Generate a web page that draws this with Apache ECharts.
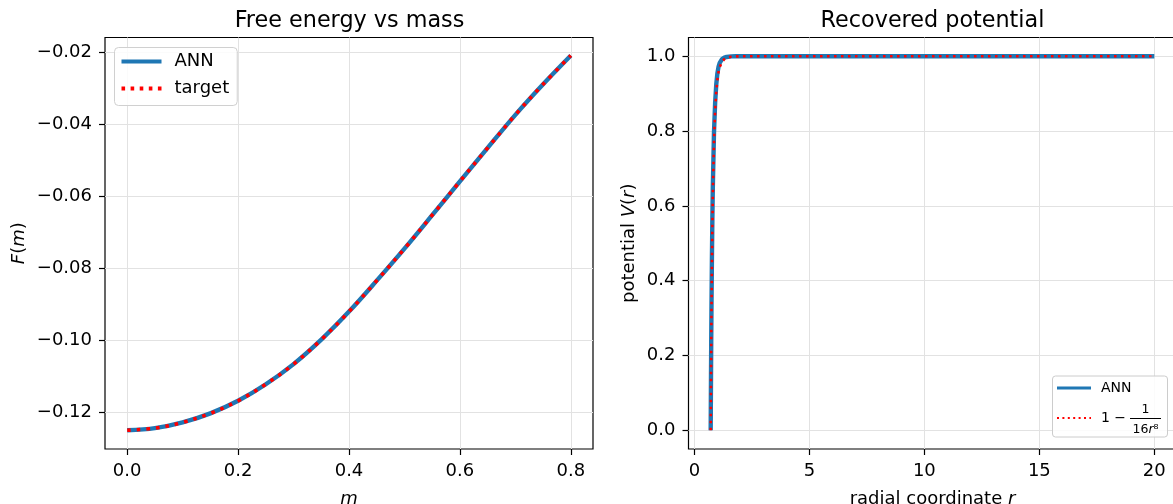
<!DOCTYPE html>
<html>
<head>
<meta charset="utf-8">
<script src="https://cdn.jsdelivr.net/npm/echarts@6/dist/echarts.min.js"></script>
<style>
html,body{margin:0;padding:0;background:#fff;}
#chart{width:1173px;height:504px;}
</style>
</head>
<body>
<div id="chart"></div>
<script>
// ---------- data ----------
const massM = [0, 0.05, 0.1, 0.15, 0.2, 0.25, 0.3, 0.35, 0.4, 0.45, 0.5, 0.55, 0.6, 0.65, 0.7, 0.75, 0.8];
const freeEnergyANN = [-0.1250, -0.1244, -0.1228, -0.1203, -0.1168, -0.1122, -0.1066, -0.0998, -0.0920, -0.0834, -0.0745, -0.0652, -0.0558, -0.0465, -0.0373, -0.0288, -0.0208];
const freeEnergyTarget = [-0.1250, -0.1244, -0.1228, -0.1203, -0.1168, -0.1122, -0.1066, -0.0998, -0.0920, -0.0834, -0.0745, -0.0652, -0.0558, -0.0465, -0.0373, -0.0288, -0.0208];

const radiusR = [0.707, 0.71, 0.72, 0.73, 0.74, 0.76, 0.78, 0.8, 0.85, 0.9, 0.95, 1.0, 1.05, 1.1, 1.2, 1.3, 1.4, 1.6, 1.8, 2.0, 3, 5, 10, 15, 20];
const potentialANN = [0, 0.034, 0.14, 0.235, 0.318, 0.455, 0.565, 0.65, 0.795, 0.875, 0.925, 0.955, 0.972, 0.982, 0.992, 0.996, 0.998, 0.9995, 1, 1, 1, 1, 1, 1, 1];
const potentialTarget = [0, 0.032, 0.134, 0.225, 0.305, 0.438, 0.544, 0.627, 0.771, 0.855, 0.906, 0.938, 0.958, 0.971, 0.985, 0.992, 0.996, 0.9985, 0.9994, 0.9998, 1, 1, 1, 1, 1];

const massTicks = [0, 0.2, 0.4, 0.6, 0.8];
const energyTicks = [-0.12, -0.10, -0.08, -0.06, -0.04, -0.02];
const radiusTicks = [0, 5, 10, 15, 20];
const potentialTicks = [0, 0.2, 0.4, 0.6, 0.8, 1.0];

// ---------- helpers ----------
const FONT = 'DejaVu Sans';
const BLUE = '#1f77b4';
const GRIDC = '#e2e2e2';
const zip = (xs, ys) => xs.map((x, i) => [x, ys[i]]);
const fmtMinus = (v, d) => (v < 0 ? '\u2212' : '') + Math.abs(v).toFixed(d);

function valueAxis(gridIndex, min, max, ticks, fmt, extra) {
  return Object.assign({
    type: 'value', gridIndex, min, max,
    axisLine: { show: false, onZero: false },
    axisTick: { show: true, customValues: ticks, length: 6, lineStyle: { color: '#000', width: 1.2 } },
    axisLabel: { customValues: ticks, formatter: fmt, color: '#000', fontFamily: FONT, fontSize: 18, margin: 13 },
    splitLine: { show: false }
  }, extra);
}
function gridLines(xTicks, yTicks) {
  return {
    silent: true, symbol: 'none', animation: false, z: 1,
    label: { show: false },
    lineStyle: { color: GRIDC, width: 1, type: 'solid' },
    emphasis: { disabled: true },
    data: xTicks.map(v => ({ xAxis: v })).concat(yTicks.map(v => ({ yAxis: v })))
  };
}
// legend icons (40 x 4 units)
const ICON_SOLID = 'path://M0,0H40V4H0Z';
const ICON_DOTS = 'path://M0,0h3.6v4h-3.6z M9.1,0h3.6v4h-3.6z M18.2,0h3.6v4h-3.6z M27.3,0h3.6v4h-3.6z M36.4,0h3.6v4h-3.6z';

const chart = echarts.init(document.getElementById('chart'), null, { renderer: 'canvas' });

const gridBase = { top: 37.5, width: 488, height: 411.5, show: true, borderColor: '#000', borderWidth: 1.2,
  backgroundColor: 'transparent', z: 0, containLabel: false, outerBoundsMode: 'none' };

const option = {
  animation: false,
  backgroundColor: '#fff',
  textStyle: { fontFamily: FONT },
  title: [
    { text: 'Free energy vs mass', left: 344.5, top: 5, textAlign: 'center',
      textStyle: { fontFamily: FONT, fontSize: 22.3, fontWeight: 'normal', color: '#000' } },
    { text: 'Recovered potential', left: 927.5, top: 5, textAlign: 'center',
      textStyle: { fontFamily: FONT, fontSize: 22.3, fontWeight: 'normal', color: '#000' } }
  ],
  grid: [
    Object.assign({ left: 105 }, gridBase),
    Object.assign({ left: 688.5 }, gridBase)
  ],
  xAxis: [
    valueAxis(0, -0.04, 0.84, massTicks, v => v.toFixed(1), {
      name: '{i|m}', nameLocation: 'middle', nameGap: 41,
      nameTextStyle: { rich: { i: { fontFamily: FONT, fontSize: 18, fontStyle: 'italic', color: '#000' } } }
    }),
    valueAxis(1, -0.258, 20.965, radiusTicks, v => String(Math.round(v)), {
      name: '{n|radial coordinate }{i|r}', nameLocation: 'middle', nameGap: 41,
      nameTextStyle: { rich: {
        n: { fontFamily: FONT, fontSize: 18, color: '#000' },
        i: { fontFamily: FONT, fontSize: 18, fontStyle: 'italic', color: '#000' } } }
    })
  ],
  yAxis: [
    valueAxis(0, -0.1302, -0.0158, energyTicks, v => fmtMinus(v, 2), {
      name: '{i|F}{n|(}{i|m}{n|)}', nameLocation: 'middle', nameGap: 77,
      nameTextStyle: { rich: {
        n: { fontFamily: FONT, fontSize: 18, color: '#000' },
        i: { fontFamily: FONT, fontSize: 18, fontStyle: 'italic', color: '#000' } } }
    }),
    valueAxis(1, -0.05, 1.05, potentialTicks, v => v.toFixed(1), {
      name: '{n|potential }{i|V}{n|(}{i|r}{n|)}', nameLocation: 'middle', nameGap: 50,
      nameTextStyle: { rich: {
        n: { fontFamily: FONT, fontSize: 18, color: '#000' },
        i: { fontFamily: FONT, fontSize: 18, fontStyle: 'italic', color: '#000' } } }
    })
  ],
  legend: {
    data: [{ name: 'ANN', icon: ICON_SOLID }, { name: 'target', icon: ICON_DOTS }],
    orient: 'vertical', left: 114.5, top: 47.5,
    padding: [5, 8, 8, 7], itemGap: 9, itemWidth: 40, itemHeight: 4,
    backgroundColor: 'rgba(255,255,255,0.85)', borderColor: '#d0d0d0', borderWidth: 1, borderRadius: 4,
    textStyle: { fontFamily: FONT, fontSize: 18, color: '#000', lineHeight: 18, padding: [0, 0, 0, 8] },
    selectedMode: false, z: 20
  },
  series: [
    { name: 'grid-left', type: 'line', xAxisIndex: 0, yAxisIndex: 0, data: zip(massM, freeEnergyANN),
      symbol: 'none', lineStyle: { opacity: 0 }, z: 1, silent: true, markLine: gridLines(massTicks, energyTicks) },
    { name: 'ANN', type: 'line', xAxisIndex: 0, yAxisIndex: 0, data: zip(massM, freeEnergyANN),
      symbol: 'none', smooth: 0.35, color: BLUE, lineStyle: { color: BLUE, width: 4.4 }, z: 10 },
    { name: 'target', type: 'line', xAxisIndex: 0, yAxisIndex: 0, data: zip(massM, freeEnergyTarget),
      symbol: 'none', smooth: 0.35, color: '#ff0000',
      lineStyle: { color: '#ff0000', width: 3.6, type: [3.6, 6], cap: 'butt' }, z: 11 },
    { name: 'grid-right', type: 'line', xAxisIndex: 1, yAxisIndex: 1, data: zip(radiusR, potentialANN),
      symbol: 'none', lineStyle: { opacity: 0 }, z: 1, silent: true, markLine: gridLines(radiusTicks, potentialTicks) },
    { name: 'ANN_V', type: 'line', xAxisIndex: 1, yAxisIndex: 1, data: zip(radiusR, potentialANN),
      symbol: 'none', color: BLUE, lineStyle: { color: BLUE, width: 4.4 }, z: 10 },
    { name: 'target_V', type: 'line', xAxisIndex: 1, yAxisIndex: 1, data: zip(radiusR, potentialTarget),
      symbol: 'none', color: '#ff0000',
      lineStyle: { color: '#ff0000', width: 2.6, type: [2.6, 4.4], cap: 'butt' }, z: 11 }
  ],
  graphic: [
    { type: 'rect', z: 100, shape: { x: 1052.5, y: 376, width: 115, height: 61, r: 3 },
      style: { fill: 'rgba(255,255,255,0.85)', stroke: '#cccccc', lineWidth: 1 } },
    { type: 'line', z: 101, shape: { x1: 1057, y1: 388, x2: 1091, y2: 388 },
      style: { stroke: BLUE, lineWidth: 3 } },
    { type: 'text', z: 101, x: 1101, y: 388,
      style: { text: 'ANN', fontFamily: FONT, fontSize: 14, fill: '#000', textVerticalAlign: 'middle', verticalAlign: 'middle' } },
    { type: 'line', z: 101, shape: { x1: 1057, y1: 418, x2: 1091, y2: 418 },
      style: { stroke: '#ff0000', lineWidth: 2, lineDash: [2, 3.4] } },
    { type: 'text', z: 101, x: 1101, y: 418,
      style: { text: '1 \u2212', fontFamily: FONT, fontSize: 14, fill: '#000', textVerticalAlign: 'middle', verticalAlign: 'middle' } },
    { type: 'text', z: 101, x: 1145.5, y: 410,
      style: { text: '1', fontFamily: FONT, fontSize: 12.5, fill: '#000', textAlign: 'center', align: 'center', textVerticalAlign: 'middle', verticalAlign: 'middle' } },
    { type: 'line', z: 101, shape: { x1: 1130, y1: 418.5, x2: 1161, y2: 418.5 },
      style: { stroke: '#000', lineWidth: 1 } },
    { type: 'text', z: 101, x: 1145.5, y: 429.5,
      style: { text: '{n|16}{i|r}{n|\u2078}', fontFamily: FONT, fontSize: 12.5, fill: '#000',
        textAlign: 'center', align: 'center', textVerticalAlign: 'middle', verticalAlign: 'middle',
        rich: { n: { fontFamily: FONT, fontSize: 12.5, fill: '#000', color: '#000' },
                i: { fontFamily: FONT, fontSize: 12.5, fontStyle: 'italic', fill: '#000', color: '#000' } } } }
  ]
};
chart.setOption(option);
</script>
</body>
</html>
